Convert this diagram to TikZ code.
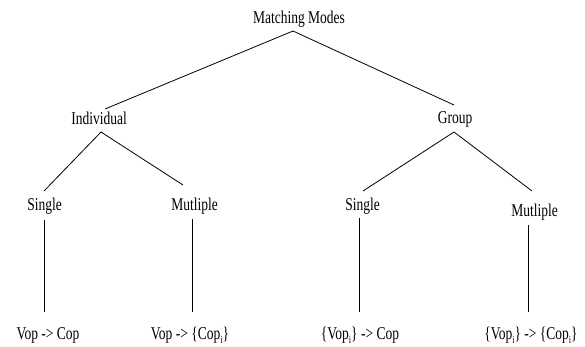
\documentclass[tikz,border=0pt]{standalone}
\usepackage{fontspec}
\setmainfont{Liberation Serif}[FakeStretch=0.75]
\newcommand{\lowi}{\raisebox{-4pt}{\fontsize{11}{11}\selectfont i}}
\begin{document}
\begin{tikzpicture}[x=1pt,y=-1pt,
  lbl/.style={inner sep=0pt, font=\fontsize{18}{20}\selectfont},
  edge/.style={draw=black, line width=0.8pt}]
\useasboundingbox[fill=white] (0,0) rectangle (585,346);
\node[lbl] (mm) at (299,19) {Matching Modes};
\node[lbl] (ind) at (99,118) {Individual};
\node[lbl] (grp) at (455,119) {Group};
\node[lbl] (s1) at (44.5,206) {Single};
\node[lbl] (m1) at (194.5,206) {Mutliple};
\node[lbl] (s2) at (362.5,206) {Single};
\node[lbl] (m2) at (534.5,212) {Mutliple};
\node[lbl,anchor=base] (b1) at (48,339) {Vop -> Cop};
\node[lbl,anchor=base] (b2) at (190,339) {Vop -> \{Cop\lowi\}};
\node[lbl,anchor=base] (b3) at (360,339) {\{Vop\lowi\} -> Cop};
\node[lbl,anchor=base] (b4) at (531,339) {\{Vop\lowi\} -> \{Cop\lowi\}};
% apex and end coordinates
\coordinate (mmA) at (293,31);
\coordinate (indT) at (105,109);
\coordinate (grpT) at (454,105);
\coordinate (indA) at (101,132);
\coordinate (s1T) at (44,191);
\coordinate (m1T) at (183,185);
\coordinate (grpA) at (454,132);
\coordinate (s2T) at (363,191);
\coordinate (m2T) at (532,191);
\coordinate (s1B) at (44,220);
\coordinate (b1T) at (44,312);
\coordinate (m1B) at (192,219);
\coordinate (b2T) at (192,312);
\coordinate (s2B) at (359,218);
\coordinate (b3T) at (359,312);
\coordinate (m2B) at (528,225);
\coordinate (b4T) at (528,312);
\draw[edge] (indT) -- (mmA) -- (grpT);
\draw[edge] (s1T) -- (indA) -- (m1T);
\draw[edge] (s2T) -- (grpA) -- (m2T);
\draw[edge] (s1B) -- (b1T);
\draw[edge] (m1B) -- (b2T);
\draw[edge] (s2B) -- (b3T);
\draw[edge] (m2B) -- (b4T);
\end{tikzpicture}
\end{document}
